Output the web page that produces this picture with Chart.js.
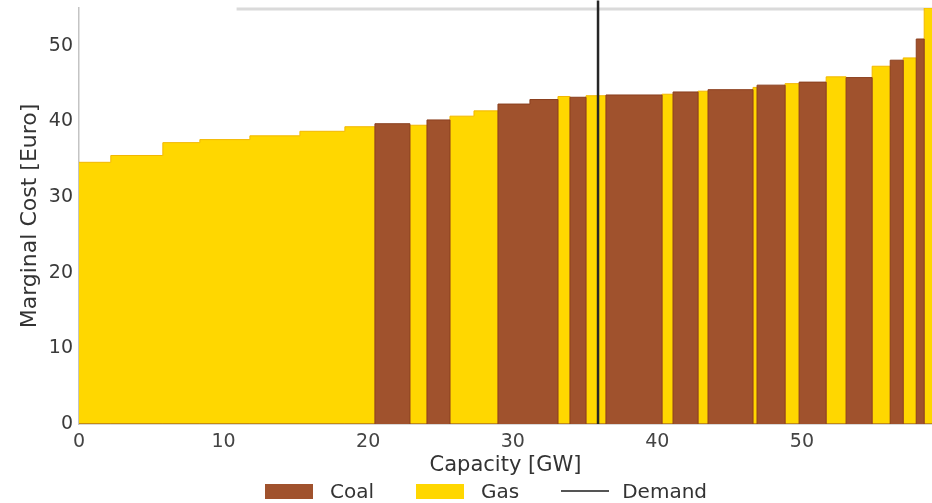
<!DOCTYPE html>
<html lang="en">
  <head>
    <meta charset="UTF-8" />
    <title>Merit order</title>
    <script src="https://cdn.jsdelivr.net/npm/chart.js"></script>
    <style>
      html, body { margin: 0; padding: 0; background: #fff; }
      .wrap { position: relative; width: 932px; height: 503px; overflow: hidden; }
      .legend {
        position: absolute; left: 265px; top: 479px;
        display: flex; align-items: center;
        font-family: "DejaVu Sans", sans-serif; font-size: 20px; color: #333;
      }
      .legend .item { display: flex; align-items: center; margin-right: 42px; }
      .legend .swatch { width: 48px; height: 15px; margin-right: 17px; }
      .legend .line { width: 48px; height: 2px; margin-right: 13px; }
    </style>
  </head>
  <body>
    <div class="wrap">
      <canvas id="myChart" width="932" height="503"></canvas>
      <div class="legend" id="legend"></div>
    </div>

    <script>
      "use strict";
      // fuel types
      const fuelNames = ["Coal", "Gas"];
      const fuelColors = ["#a0522d", "#ffd700"];
      const fuelEdges = ["#8b3f1e", "#f2b800"];

      // power plants in merit order
      const plantFuel = [
        "Gas", "Gas", "Gas", "Gas", "Gas", "Gas", "Gas",
        "Coal", "Gas", "Coal", "Gas", "Gas", "Coal", "Coal",
        "Gas", "Coal", "Gas", "Coal", "Gas", "Coal", "Gas",
        "Coal", "Gas", "Coal", "Gas", "Coal", "Gas", "Coal",
        "Gas", "Coal", "Gas", "Coal", "Gas",
      ];
      const plantCapacity = [
        2.2, 3.6, 2.56, 3.46, 3.46, 3.11, 2.08,
        2.42, 1.18, 1.59, 1.66, 1.66, 2.21, 1.94,
        0.83, 1.11, 1.38, 3.88, 0.76, 1.73, 0.69,
        3.11, 0.28, 1.94, 0.97, 1.87, 1.38, 1.8,
        1.25, 0.9, 0.9, 0.55, 1.1,
      ];
      const plantCost = [
        34.6, 35.5, 37.2, 37.6, 38.1, 38.7, 39.3,
        39.7, 39.5, 40.2, 40.7, 41.4, 42.3, 42.9,
        43.3, 43.2, 43.4, 43.5, 43.6, 43.9, 44.0,
        44.2, 44.5, 44.8, 45.0, 45.2, 45.9, 45.8,
        47.3, 48.1, 48.4, 50.9, 55.0,
      ];

      const demandGW = 35.9;
      const demandSpan = [0, 56];

      const xTicks = [0, 10, 20, 30, 40, 50];
      const yTicks = [0, 10, 20, 30, 40, 50];
      const xMax = 59;
      const yMax = 55;
      const topRuleFrom = 10.9;

      // left edge of every plant on the capacity axis
      const starts = [];
      let total = 0;
      plantCapacity.forEach((c) => {
        starts.push(total);
        total += c;
      });

      function stepSeries(fuel) {
        const pts = plantCost.map((cost, i) => ({
          x: starts[i],
          y: plantFuel[i] === fuel ? cost : 0,
        }));
        pts.push({ x: total, y: pts[pts.length - 1].y });
        return pts;
      }

      const fuelSets = fuelNames.map((name, i) => ({
        label: name,
        data: stepSeries(name),
        stepped: true,
        fill: "origin",
        backgroundColor: fuelColors[i],
        borderColor: fuelEdges[i],
        borderWidth: 1,
        pointRadius: 0,
        order: i + 1,
      }));

      const demandSet = {
        label: "Demand",
        data: demandSpan.map((y) => ({ x: demandGW, y })),
        borderColor: "#262626",
        borderWidth: 2.5,
        pointRadius: 0,
        fill: false,
        clip: 10,
        order: 0,
      };

      // faint rule along the top of the plot
      const topRule = {
        id: "topRule",
        beforeDatasetsDraw(chart) {
          const { ctx, chartArea, scales } = chart;
          ctx.save();
          ctx.strokeStyle = "#dadada";
          ctx.lineWidth = 3;
          ctx.beginPath();
          ctx.moveTo(scales.x.getPixelForValue(topRuleFrom), chartArea.top + 1);
          ctx.lineTo(chartArea.right, chartArea.top + 1);
          ctx.stroke();
          ctx.restore();
        },
      };

      const font = "'DejaVu Sans', sans-serif";
      const ctx = document.getElementById("myChart").getContext("2d");

      new Chart(ctx, {
        type: "line",
        data: { datasets: [...fuelSets, demandSet] },
        plugins: [topRule],
        options: {
          responsive: false,
          animation: false,
          events: [],
          layout: {
            autoPadding: false,
            padding: { top: 8, left: 0, right: 0, bottom: 0 },
          },
          plugins: {
            legend: { display: false },
            tooltip: { enabled: false },
          },
          scales: {
            x: {
              type: "linear",
              min: 0,
              max: xMax,
              afterBuildTicks: (s) => {
                s.ticks = xTicks.map((v) => ({ value: v }));
              },
              afterFit: (s) => {
                s.height = 79;
                s.paddingLeft = 0;
                s.paddingRight = 0;
              },
              ticks: {
                font: { family: font, size: 19 },
                color: "#444",
                padding: 7,
                maxRotation: 0,
                autoSkip: false,
              },
              grid: { display: false, drawTicks: false },
              border: { display: true, color: "#d8d8d8", width: 1 },
              title: {
                display: true,
                text: "Capacity [GW]",
                font: { family: font, size: 21 },
                color: "#333",
                padding: { top: 0, bottom: 25 },
              },
            },
            y: {
              min: 0,
              max: yMax,
              afterBuildTicks: (s) => {
                s.ticks = yTicks.map((v) => ({ value: v }));
              },
              afterFit: (s) => {
                s.width = 79;
                s.paddingTop = 0;
                s.paddingBottom = 0;
              },
              ticks: {
                font: { family: font, size: 19 },
                color: "#3a3a3a",
                padding: 6,
              },
              grid: { display: false, drawTicks: false },
              border: { display: true, color: "#c4c4c4", width: 1.5 },
              title: {
                display: true,
                text: "Marginal Cost [Euro]",
                font: { family: font, size: 22 },
                color: "#333",
                padding: { top: 17, bottom: 0 },
              },
            },
          },
        },
      });

      // legend under the axis
      const legend = document.getElementById("legend");
      fuelNames.forEach((name, i) => {
        legend.insertAdjacentHTML(
          "beforeend",
          `<div class="item"><div class="swatch" style="background:${fuelColors[i]}"></div>${name}</div>`
        );
      });
      legend.insertAdjacentHTML(
        "beforeend",
        `<div class="item"><div class="line" style="background:#555"></div>${demandSet.label}</div>`
      );
    </script>
  </body>
</html>
